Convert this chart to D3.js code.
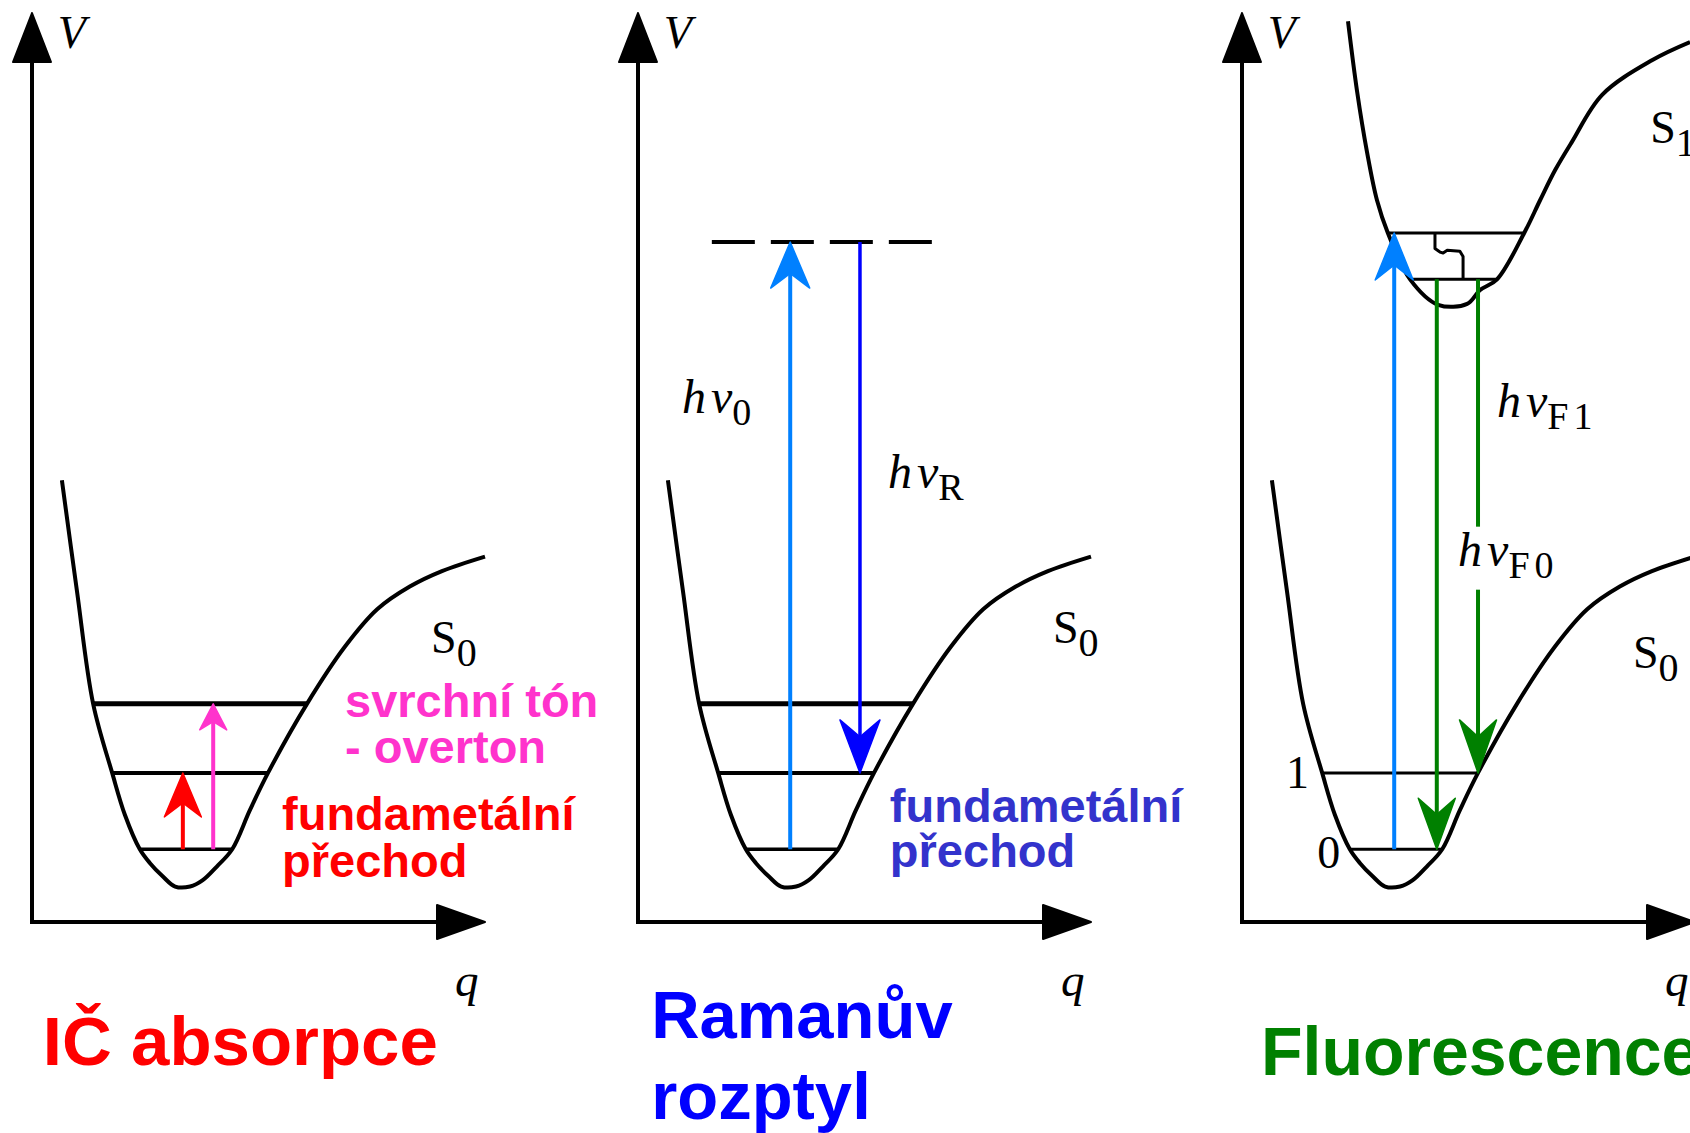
<!DOCTYPE html>
<html>
<head>
<meta charset="utf-8">
<script src="https://cdn.jsdelivr.net/npm/d3@7"></script>
<style>
    body { margin: 0; background: #fff; }
    svg { display: block; }
    .sans { font-family: "Liberation Sans", Arial, sans-serif; font-weight: bold; }
    .serif { font-family: "Liberation Serif", "Times New Roman", serif; }
</style>
</head>
<body>
<svg id="chart" width="1690" height="1133"></svg>
<script>
// potential curves as [q, V], both axes in arbitrary units 0..100
const s0Curve = [
    [6.6, 48.6], [9.9, 36.5], [13.5, 24.0], [17.7, 16.4], [20.5, 11.8], [23.8, 8.0],
    [26.0, 6.5], [28.9, 5.0], [31.6, 3.9], [34.9, 3.9], [37.7, 4.6], [40.8, 6.1],
    [44.2, 8.0], [48.1, 12.3], [52.1, 16.4], [60.7, 24.0], [69.1, 30.3], [76.2, 34.4],
    [83.4, 36.9], [90.5, 38.6], [100, 40.2],
]
const s1Curve = [
    [23.4, 99.1], [25.4, 91.4], [27.6, 84.7], [29.8, 79.4], [32.2, 75.8], [37.1, 70.7],
    [43.3, 67.9], [49.7, 68.0], [52.5, 69.5], [56.3, 70.7], [62.3, 75.8], [65.8, 79.4],
    [69.1, 82.7], [72.8, 85.8], [79.5, 91.0], [90.5, 94.8], [98.9, 96.8],
]

// vibrational levels: energy and the q span of the line
const s0Levels = [8.0, 16.4, 24.0]
const s0LevelSpans = [[23.8, 44.2], [17.7, 52.1], [13.5, 60.7]]
const s1Levels = [70.7, 75.8]
const s1LevelSpans = [[37.1, 56.3], [32.2, 62.3]]
const virtualLevel = 74.8
const virtualSpan = [16.3, 65.1]

// non-radiative relaxation inside S1
const relaxPath = [
    [42.6, 75.8], [42.6, 74.1], [43.7, 73.7], [44.4, 73.6], [45.3, 73.9],
    [48.1, 73.8], [48.8, 73.2], [48.8, 70.7],
]

// transitions: [q, V from, V to]
const irTransitions = [[33.3, 8.0, 16.4], [40.0, 8.0, 24.0]]
const ramanTransitions = [[33.6, 8.0, 74.8], [49.0, 74.8, 16.4]]
const fluoTransitions = [[33.6, 8.0, 75.8], [43.0, 70.7, 8.0], [52.1, 70.7, 16.4]]

const panelTitles = [["IČ absorpce"], ["Ramanův", "rozptyl"], ["Fluorescence"]]
const levelNumbers = ["0", "1"]


const svg= d3.select("#chart")
const panelLeft= [32, 638, 1242]
const axisLen= 453

const y= d3.scaleLinear().domain([0, 100]).range([922, 13])
const xScales= panelLeft.map(l => d3.scaleLinear().domain([0, 100]).range([l, l + axisLen]))

const smooth= x => d3.line()
    .x(d => x(d[0])).y(d => y(d[1]))
    .curve(d3.curveCatmullRom.alpha(0.5))

function drawAxes(g, x) {
    // V axis
    g.append("line")
        .attr("x1", x(0)).attr("x2", x(0))
        .attr("y1", y(0) + 2).attr("y2", y(100) + 40)
        .attr("stroke", "#000").attr("stroke-width", 4)
    g.append("path")
        .attr("d", `M${x(0)},${y(100)} L${x(0) - 19},${y(100) + 49} L${x(0) + 19},${y(100) + 49} Z`)
        .attr("fill", "#000").attr("stroke", "#000").attr("stroke-width", 2).attr("stroke-linejoin", "round")
    // q axis
    g.append("line")
        .attr("x1", x(0) - 2).attr("x2", x(100) - 40)
        .attr("y1", y(0)).attr("y2", y(0))
        .attr("stroke", "#000").attr("stroke-width", 4)
    g.append("path")
        .attr("d", `M${x(100)},${y(0)} L${x(100) - 48},${y(0) - 17} L${x(100) - 48},${y(0) + 17} Z`)
        .attr("fill", "#000").attr("stroke", "#000").attr("stroke-width", 2).attr("stroke-linejoin", "round")

    g.append("text").attr("class", "serif")
        .attr("x", x(5.7)).attr("y", y(96.1))
        .attr("font-size", 46).attr("font-style", "italic").text("V")
    g.append("text").attr("class", "serif")
        .attr("x", x(93.4)).attr("y", y(-8.1))
        .attr("font-size", 47).attr("font-style", "italic").text("q")
}

function drawLevels(g, x, levels, spans, widths) {
    levels.forEach((v, i) => {
        g.append("line")
            .attr("x1", x(spans[i][0])).attr("x2", x(spans[i][1]))
            .attr("y1", y(v)).attr("y2", y(v))
            .attr("stroke", "#000").attr("stroke-width", widths[i])
    })
}

function drawCurve(g, x, data) {
    g.append("path")
        .attr("d", smooth(x)(data))
        .attr("fill", "none").attr("stroke", "#000").attr("stroke-width", 4)
        .attr("stroke-linejoin", "round")
}

// vertical arrow with a barbed head, tip at the "to" level
function drawArrow(g, x, [q, v0, v1], color, sw, hl, hw) {
    let xp= x(q), ya= y(v0), yb= y(v1)
    let dir= yb < ya ? 1 : -1
    let notch= hl * 0.68
    g.append("line")
        .attr("x1", xp).attr("x2", xp)
        .attr("y1", ya).attr("y2", yb + dir * notch)
        .attr("stroke", color).attr("stroke-width", sw)
    g.append("path")
        .attr("d", `M${xp},${yb} L${xp - hw / 2},${yb + dir * hl} L${xp},${yb + dir * notch} L${xp + hw / 2},${yb + dir * hl} Z`)
        .attr("fill", color).attr("stroke", color).attr("stroke-width", 1.5)
        .attr("stroke-linejoin", "round")
}

// S_0 style label with a near full size subscript
function stateLabel(g, x, q, v, main, sub) {
    let t= g.append("text").attr("class", "serif")
        .attr("x", x(q)).attr("y", y(v)).attr("font-size", 46)
    t.append("tspan").text(main)
    t.append("tspan").attr("font-size", 40).attr("dy", 13).text(sub)
    return t
}

// h nu label
function photonLabel(g, x, q, v, sub, spacing=0) {
    let t= g.append("text").attr("class", "serif")
        .attr("x", x(q)).attr("y", y(v)).attr("font-size", 48)
    t.append("tspan").attr("font-style", "italic").text("h")
    t.append("tspan").attr("font-style", "italic").attr("dx", 5).text("ν")
    t.append("tspan").attr("font-size", 38).attr("dy", 12)
        .attr("letter-spacing", spacing).text(sub)
    return t
}

function sansLines(g, x, q, v, lines, color, size, step) {
    lines.forEach((s, i) => {
        g.append("text").attr("class", "sans")
            .attr("x", x(q)).attr("y", y(v) + i * step)
            .attr("font-size", size).attr("fill", color).text(s)
    })
}


// ---- panel 1: IR absorption
{
    let x= xScales[0], g= svg.append("g")
    drawAxes(g, x)
    drawLevels(g, x, s0Levels, s0LevelSpans, [3.5, 4, 5])
    drawCurve(g, x, s0Curve)
    drawArrow(g, x, irTransitions[0], "#ff0000", 4, 44, 37)
    drawArrow(g, x, irTransitions[1], "#ff33cc", 4, 26, 27)
    stateLabel(g, x, 88.1, 29.6, "S", "0")
    sansLines(g, x, 69.1, 22.6, ["svrchní tón", "- overton"], "#ff33cc", 47, 46)
    sansLines(g, x, 55.2, 10.1, ["fundametální", "přechod"], "#ff0000", 47, 47)
    sansLines(g, x, 2.4, -15.7, panelTitles[0], "#ff0000", 69, 81)
}

// ---- panel 2: Raman scattering
{
    let x= xScales[1], g= svg.append("g")
    drawAxes(g, x)
    drawLevels(g, x, s0Levels, s0LevelSpans, [3.5, 4, 5])
    drawCurve(g, x, s0Curve)
    g.append("line")
        .attr("x1", x(virtualSpan[0])).attr("x2", x(virtualSpan[1]))
        .attr("y1", y(virtualLevel)).attr("y2", y(virtualLevel))
        .attr("stroke", "#000").attr("stroke-width", 4)
        .attr("stroke-dasharray", "43,16")
    drawArrow(g, x, ramanTransitions[0], "#0080ff", 4, 46, 39)
    drawArrow(g, x, ramanTransitions[1], "#0000ff", 3.5, 53, 40)
    stateLabel(g, x, 91.6, 30.7, "S", "0")
    photonLabel(g, x, 9.7, 56.0, "0")
    photonLabel(g, x, 55.2, 47.7, "R")
    sansLines(g, x, 55.6, 11.0, ["fundametální", "přechod"], "#3333cc", 47, 45)
    sansLines(g, x, 2.9, -12.8, panelTitles[1], "#0000ff", 67, 81)
}

// ---- panel 3: fluorescence
{
    let x= xScales[2], g= svg.append("g")
    drawAxes(g, x)
    drawLevels(g, x, s0Levels.slice(0, 2), s0LevelSpans, [3, 3])
    drawCurve(g, x, s0Curve)
    drawLevels(g, x, s1Levels, s1LevelSpans, [3, 3])
    drawCurve(g, x, s1Curve)
    g.append("path")
        .attr("d", d3.line().x(d => x(d[0])).y(d => y(d[1]))(relaxPath))
        .attr("fill", "none").attr("stroke", "#000").attr("stroke-width", 3)
        .attr("stroke-linejoin", "round")
    drawArrow(g, x, fluoTransitions[0], "#0080ff", 4, 47, 38)
    drawArrow(g, x, fluoTransitions[1], "#008000", 4, 51, 37)
    drawArrow(g, x, fluoTransitions[2], "#008000", 4, 53, 37)

    stateLabel(g, x, 90.1, 85.7, "S", "1")
    stateLabel(g, x, 86.3, 27.9, "S", "0")
    photonLabel(g, x, 56.3, 55.6, "F1", 5)

    // hv_F0 sits on a white patch that breaks the green line
    let bg= g.append("rect").attr("fill", "#fff")
    let f0= photonLabel(g, x, 47.7, 39.2, "F0", 5)
    let bb= f0.node().getBBox()
    bg.attr("x", bb.x - 4).attr("y", bb.y + 4).attr("width", bb.width + 8).attr("height", bb.height)

    g.append("text").attr("class", "serif")
        .attr("x", x(9.7)).attr("y", y(14.7)).attr("font-size", 46).text(levelNumbers[1])
    g.append("text").attr("class", "serif")
        .attr("x", x(16.6)).attr("y", y(5.9)).attr("font-size", 46).text(levelNumbers[0])
    sansLines(g, x, 4.2, -16.8, panelTitles[2], "#008000", 68, 81)
}
</script>
</body>
</html>
